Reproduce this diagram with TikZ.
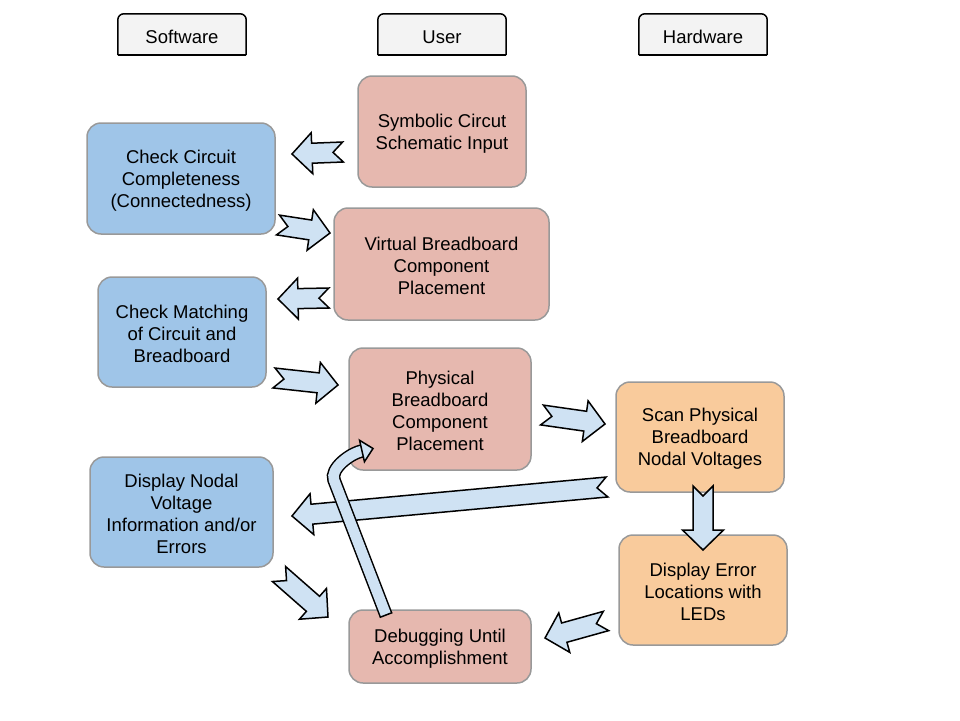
\documentclass[tikz,border=0pt]{standalone}
\usepackage{fontspec}
\setmainfont{Liberation Sans}
\usetikzlibrary{calc}

\definecolor{softblue}{HTML}{9FC5E8}
\definecolor{userpink}{HTML}{E6B8AF}
\definecolor{hardorange}{HTML}{F9CB9C}
\definecolor{arrowblue}{HTML}{CFE2F3}
\definecolor{headgray}{HTML}{F3F3F3}
\definecolor{edgegray}{HTML}{999999}

\tikzset{
	box/.style={draw=edgegray, line width=1.5pt, rounded corners=14pt, inner sep=0pt},
	softbox/.style={box, fill=softblue},
	userbox/.style={box, fill=userpink},
	hardbox/.style={box, fill=hardorange},
	txt/.style={align=center, inner sep=0pt, yshift=-2pt, font=\fontsize{18.5}{22}\selectfont},
	header/.style={minimum width=128pt, minimum height=41pt, inner sep=0pt},
	headline/.style={draw=black, line width=1.5pt, fill=headgray},
	fatarrow/.style={draw=black, line width=1.5pt, fill=arrowblue, line join=miter}
}

% notched block arrow from tail #1 to tip #2
\newcommand{\notcharrow}[2]{%
	\coordinate (hb) at ($(#2)!20pt!(#1)$);
	\draw[fatarrow] ($(#1)!10pt!90:(#2)$) -- ($(#1)!10pt!(#2)$) -- ($(#1)!10pt!-90:(#2)$)
		-- ($(hb)!10pt!-90:(#2)$) -- ($(hb)!20.5pt!-90:(#2)$) -- (#2)
		-- ($(hb)!20.5pt!90:(#2)$) -- ($(hb)!10pt!90:(#2)$) -- cycle;
}

\begin{document}
\begin{tikzpicture}[x=1pt,y=-1pt]
	\useasboundingbox (0,0) rectangle (960,720);

	% column headers
	\node[header] (S) at (182,34.5) {};
	\node[header] (U) at (442,34.5) {};
	\node[header] (H) at (703,34.5) {};
	\foreach \h in {S,U,H}{
		\filldraw[headline, rounded corners=6pt] (\h.south west) -- (\h.north west) -- (\h.north east) -- (\h.south east);
		\draw[headline] (\h.south west) -- (\h.south east);
	}
	\node[txt] (sw) at (S) {Software};
	\node[txt] (us) at ([yshift=-0.5pt]U) {User};
	\node[txt] (hw) at (H) {Hardware};

	% user column
	\node[userbox, minimum width=168pt, minimum height=111pt] (sym) at (442,131.5) {};
	\node[userbox, minimum width=215pt, minimum height=112pt] (vir) at (441.5,264) {};
	\node[userbox, minimum width=182pt, minimum height=122pt] (phy) at (440,409) {};
	\node[userbox, minimum width=182pt, minimum height=73pt] (dbg) at (440,646.5) {};
	\node[txt] (symt) at (sym) {Symbolic Circut\\Schematic Input};
	\node[txt] (virt) at (vir) {Virtual Breadboard\\Component\\Placement};
	\node[txt] (phyt) at (phy) {Physical\\Breadboard\\Component\\Placement};
	\node[txt] (dbgt) at (dbg) {Debugging Until\\Accomplishment};

	% software column
	\node[softbox, minimum width=188pt, minimum height=111pt] (chk) at (181,178.5) {};
	\node[softbox, minimum width=168pt, minimum height=110pt] (mat) at (182,332) {};
	\node[softbox, minimum width=183pt, minimum height=110pt] (nod) at (181.5,512) {};
	\node[txt] (chkt) at (chk) {Check Circuit\\Completeness\\(Connectedness)};
	\node[txt] (matt) at (mat) {Check Matching\\of Circuit and\\Breadboard};
	\node[txt] (nodt) at (nod) {Display Nodal\\Voltage\\Information and/or\\Errors};

	% hardware column
	\node[hardbox, minimum width=168pt, minimum height=110pt] (scan) at (700,437) {};
	\node[hardbox, minimum width=168pt, minimum height=110pt] (err) at (703,590) {};
	\node[txt] (scant) at (scan) {Scan Physical\\Breadboard\\Nodal Voltages};
	\node[txt] (errt) at (err) {Display Error\\Locations with\\LEDs};

	% arrow ends
	\coordinate (A1) at (343,152);  \coordinate (B1) at (292,154);
	\coordinate (A2) at (278,225);  \coordinate (B2) at (330,233);
	\coordinate (A3) at (329,298);  \coordinate (B3) at (278,299);
	\coordinate (A4) at (274,378);  \coordinate (B4) at (338,385);
	\coordinate (A5) at (542,415);  \coordinate (B5) at (605,424);
	\coordinate (A6) at (607,487);  \coordinate (B6) at (292,516);
	\coordinate (A7) at (703,486);  \coordinate (B7) at (703,550);
	\coordinate (A8) at (279,574);  \coordinate (B8) at (328,617);
	\coordinate (A9) at (606,621);  \coordinate (B9) at (545,638);

	\notcharrow{A1}{B1}
	\notcharrow{A2}{B2}
	\notcharrow{A3}{B3}
	\notcharrow{A4}{B4}
	\notcharrow{A5}{B5}
	\notcharrow{A6}{B6}
	\notcharrow{A7}{B7}
	\notcharrow{A8}{B8}
	\notcharrow{A9}{B9}

	% curved arrow back up to the physical placement
	\coordinate (P0) at (386,615);
	\coordinate (P1) at (334,480);
	\coordinate (P2) at (362,451);
	\coordinate (P3) at (373,448.5);
	\draw[double=arrowblue, double distance=10.5pt, line width=1.5pt]
		(P0) -- (P1) .. controls (329.8,468.8) and (350.2,453.3) .. (P2);
	\draw[line width=1.5pt] ($(P0)!6.75pt!90:(P1)$) -- ($(P0)!6.75pt!-90:(P1)$);
	\draw[fatarrow] ($(P2)!11pt!90:(P3)$) -- (P3) -- ($(P2)!11pt!-90:(P3)$) -- cycle;

\end{tikzpicture}
\end{document}
